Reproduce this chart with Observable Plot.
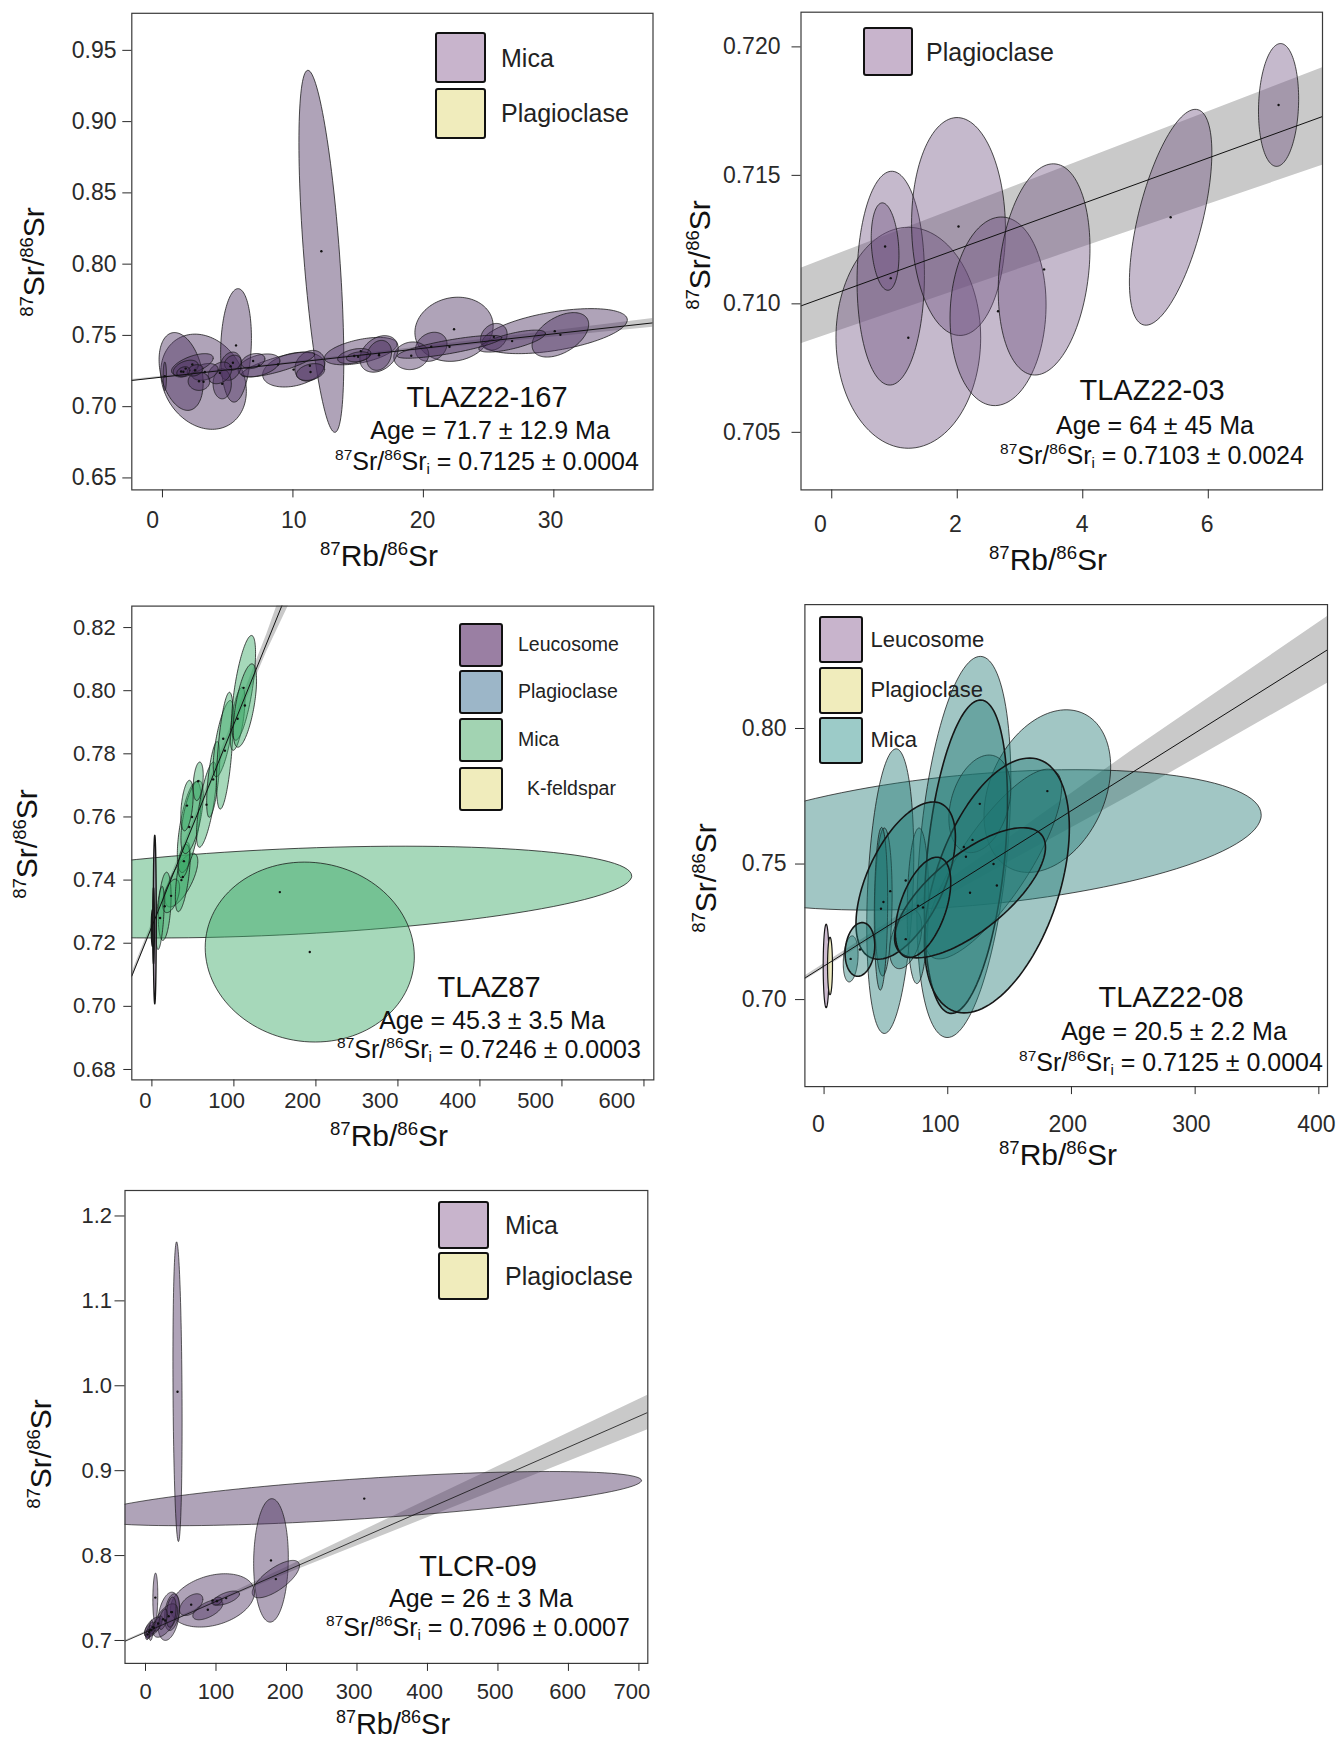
<!DOCTYPE html>
<html><head><meta charset="utf-8">
<script src="https://cdn.jsdelivr.net/npm/d3@7"></script>
<script src="https://cdn.jsdelivr.net/npm/@observablehq/plot@0.6"></script>
<style>
body{margin:0;background:#fff;}
#fig{position:relative;width:1339px;height:1739px;overflow:hidden;font-family:'Liberation Sans',Arial,Helvetica,sans-serif;color:#111;background:#fff;}
.t{position:absolute;white-space:nowrap;line-height:1;transform:translate(-50%,-50%);}
.yt{transform:translate(-50%,-50%) rotate(-90deg);}
.t sup,.lab sup{font-size:0.62em;vertical-align:0.6em;line-height:0;}
.t sub{font-size:0.6em;vertical-align:-0.3em;line-height:0;}
.box{position:absolute;border:2px solid #111;border-radius:3px;box-sizing:border-box;}
.lab{position:absolute;white-space:nowrap;line-height:1;transform:translateY(-50%);color:#222;}
</style></head><body><div id="fig"></div>
<script>
// ===== DATA (ellipses: [centre x, centre y, half-width x, half-height y, correlation]) =====
// Panel 1: TLAZ22-167
const p1Mica = [
 [3.15,0.7175,3.28,0.0334,-0.2],[1.43,0.7247,1.69,0.0273,-0.3],[5.64,0.743,1.18,0.0398,0.13],
 [12.18,0.809,1.72,0.127,-0.6],[22.35,0.7543,3.0,0.0225,0.1],[30.07,0.753,5.56,0.0158,0.5],
 [30.5,0.7504,2.17,0.0156,0.47],[25.4,0.749,1.02,0.0094,0.2],[26.8,0.746,2.55,0.0077,0.7],
 [20.6,0.742,1.21,0.0102,0.2],[19.07,0.7357,1.34,0.0097,0.1],[22.0,0.742,4.0,0.008,0.8],
 [15.2,0.739,2.78,0.0096,0.5],[16.6,0.737,1.47,0.0128,0.3],[16.6,0.736,0.96,0.0105,0.2],
 [14.7,0.7355,1.27,0.0053,0.4],[15.0,0.735,0.9,0.0035,0.3],[10.05,0.726,2.37,0.0122,0.3],
 [11.3,0.7287,1.15,0.0108,0.2],[11.35,0.7243,1.08,0.0059,0.3],[8.86,0.7296,2.8,0.0088,0.8],
 [7.4,0.729,1.6,0.008,0.4],[6.95,0.732,0.9,0.0053,0.3],[5.22,0.7284,0.83,0.0099,0.2],
 [5.4,0.7308,0.64,0.0053,0.2],[4.58,0.716,0.7,0.0105,0.0],[4.4,0.7237,0.9,0.0076,0.3],
 [3.25,0.7244,1.02,0.0059,0.3],[2.8,0.7178,0.83,0.0064,0.0],[2.29,0.7296,1.6,0.0076,0.6],
 [1.78,0.7267,0.96,0.0059,0.4],[2.5,0.7255,0.6,0.004,0.3],[1.6,0.7245,0.5,0.0035,0.3],
 [0.18,0.7213,0.13,0.01,0.0]
];
const p1LineX = [-2.35, 37.6], p1LineY = [0.7184, 0.7588];
const p1BandX = [-2.35, 10, 20, 30, 37.6], p1BandHalf = [0.0006, 0.0007, 0.0012, 0.0022, 0.003];
const p1XTicks = [0, 10, 20, 30], p1XLabelAt = [-0.75, 10.07, 19.94, 29.74];
const p1YTicks = [0.65, 0.70, 0.75, 0.80, 0.85, 0.90, 0.95];
const p1Legend = ["Mica", "Plagioclase"];
const p1Text = ["TLAZ22-167", "71.7 ± 12.9", "0.7125 ± 0.0004"];

// Panel 2: TLAZ22-03
const p2Plag = [
 [1.22,0.70868,1.153,0.0043,0.0],[0.94,0.711,0.537,0.00416,0.03],[0.85,0.71223,0.221,0.0017,-0.2],
 [2.02,0.71301,0.748,0.00424,-0.03],[2.65,0.70971,0.765,0.00367,0.07],[3.384,0.71134,0.731,0.00411,0.2],
 [5.40,0.71337,0.657,0.0042,0.6],[7.12,0.71774,0.32,0.00239,0.1]
];
const p2LineX = [-0.49, 7.82], p2LineY = [0.70992, 0.71729];
const p2BandX = [-0.49, 3.5, 7.82], p2BandHalf = [0.00147, 0.00167, 0.0019];
const p2XTicks = [0, 2, 4, 6], p2XLabelAt = [-0.18, 1.97, 3.99, 5.98];
const p2YTicks = [0.705, 0.710, 0.715, 0.720];
const p2Legend = ["Plagioclase"];
const p2Text = ["TLAZ22-03", "64 ± 45", "0.7103 ± 0.0024"];

// Panel 3: TLAZ87
const p3Mica = [
 [156,0.7362,429,0.01454,0.353],[192.5,0.7172,127.5,0.0285,-0.05],
 [36,0.74,20,0.0085,0.7],[15.6,0.7317,7.8,0.0108,0.3],[23.4,0.735,10.4,0.0053,0.5],
 [10,0.728,5,0.01,0.5],[37.7,0.741,9.1,0.011,0.6],[45.5,0.7568,14.5,0.0144,0.6],
 [39,0.746,7,0.0053,0.4],[49,0.76,13.6,0.0116,0.6],[42.8,0.7636,7.5,0.008,0.4],
 [56.5,0.7713,6.1,0.0061,0.3],[66.6,0.7639,12.2,0.0135,0.7],[74.8,0.7719,8,0.012,0.6],
 [87,0.7848,12.2,0.0121,0.7],[89,0.781,10.2,0.0185,0.55],[104.5,0.7911,9,0.01,0.6],
 [111.8,0.8009,14.6,0.0166,0.66],[113.4,0.7953,14.2,0.0132,0.6]
];
const p3Leuco = [[3.5,0.7275,1.8,0.0267,0.0],[0.8,0.7248,1.5,0.0058,0.0],[2,0.7255,1.0,0.012,0.0]];
const p3LineX = [-24.5, 170], p3LineY = [0.7096, 0.8343];
const p3BandX = [-24.5, 50, 100, 140, 170], p3BandHalf = [0.001, 0.0012, 0.0018, 0.0027, 0.0055];
const p3XTicks = [0, 100, 200, 300, 400, 500, 600], p3XLabelAt = [-7.8, 91, 183.7, 278.4, 373, 468, 567];
const p3YTicks = [0.68, 0.70, 0.72, 0.74, 0.76, 0.78, 0.80, 0.82];
const p3Legend = ["Leucosome", "Plagioclase", "Mica", "K-feldspar"];
const p3Text = ["TLAZ87", "45.3 ± 3.5", "0.7246 ± 0.0003"];

// Panel 4: TLAZ22-08
const p4Mica = [
 [120,0.7589,233.4,0.0259,0.355],[53.5,0.740,19,0.0525,0.25],[113,0.7563,38,0.0703,0.35],
 [180.5,0.7769,51.2,0.030,0.3],[48,0.736,7,0.0273,0.1],[75.9,0.7346,8.7,0.0287,0.1],
 [66,0.7223,13,0.0109,0.4],[137,0.75,55,0.035,0.8],[125.9,0.7722,25,0.018,0.3],
 [21.5,0.715,6,0.0085,0.2],[46,0.7335,5.4,0.03,0.1]
];
const p4MicaOutlined = [
 [114.7,0.7527,33.6,0.0578,0.35],[139.7,0.7421,58.6,0.047,0.45],[66,0.7439,40.2,0.029,0.55],
 [118,0.7394,61,0.024,0.7],[80,0.734,22.4,0.0185,0.5],[29,0.7185,12,0.0099,0.15]
];
const p4Leuco = [[1.7,0.7124,2.4,0.0154,0.0]];
const p4Plag = [[4.8,0.7124,2,0.0106,0.0]];
const p4LineX = [-15.5, 406.9], p4LineY = [0.70794, 0.829];
const p4BandX = [-15.5, 50, 150, 250, 407], p4BandHalf = [0.0008, 0.0012, 0.0045, 0.0082, 0.0123];
const p4XTicks = [0, 100, 200, 300, 400], p4XLabelAt = [-4.5, 94, 197, 297, 398];
const p4YTicks = [0.70, 0.75, 0.80];
const p4Legend = ["Leucosome", "Plagioclase", "Mica"];
const p4Text = ["TLAZ22-08", "20.5 ± 2.2", "0.7125 ± 0.0004"];

// Panel 5: TLCR-09
const p5Mica = [
 [310.3,0.8671,393.3,0.0319,0.67],[45.4,0.993,6.5,0.1765,-0.2],[178,0.7943,24.6,0.0727,0.05],
 [184.9,0.7723,33.5,0.022,0.72],[95,0.7472,59.6,0.0314,0.3],[64.8,0.7422,16.5,0.0128,0.5],
 [88.4,0.7362,21.3,0.0118,0.6],[114.4,0.7499,18.9,0.0083,0.6],[101.3,0.7463,7.1,0.0047,0.3],
 [13.9,0.7505,3.5,0.0289,0.1],[32.8,0.7285,15.4,0.0284,0.3],[37.6,0.7334,10.6,0.0216,0.3],
 [28,0.7235,17.7,0.0197,0.6],[36.4,0.7334,7,0.0177,0.3],[10.4,0.7157,11.8,0.0118,0.6],
 [6.8,0.7127,8.2,0.0088,0.5],[5,0.71,4,0.008,0.5],[12,0.715,5,0.007,0.6],[8,0.712,3,0.012,0.3],
 [18,0.72,6,0.009,0.6],[25,0.725,6,0.012,0.5],[3,0.707,3,0.006,0.3]
];
const p5LineX = [-29, 712.6], p5LineY = [0.6991, 0.9686];
const p5BandX = [-29, 100, 200, 400, 712.6], p5BandHalf = [0.001, 0.0015, 0.004, 0.0105, 0.0203];
const p5XTicks = [0, 100, 200, 300, 400, 500, 600, 700], p5XLabelAt = [0, 100, 198, 296, 396, 496, 599, 690];
const p5YTicks = [0.7, 0.8, 0.9, 1.0, 1.1, 1.2];
const p5Legend = ["Mica", "Plagioclase"];
const p5Text = ["TLCR-09", "26 ± 3", "0.7096 ± 0.0007"];

// ===== DRAWING =====
const FONT = "'Liberation Sans', Arial, Helvetica, sans-serif";
const fig = document.getElementById("fig");
const LAV = "#c8b4cc", YEL = "#f0ecbc";

function ellipsePts(list, tag) {
  const out = [];
  list.forEach((e, i) => {
    const [cx, cy, hx, hy, r] = e, s = Math.sqrt(1 - r * r);
    for (let k = 0; k < 120; k++) {
      const t = 2 * Math.PI * k / 120;
      out.push({id: tag + i, x: cx + hx * Math.cos(t), y: cy + hy * (r * Math.cos(t) + s * Math.sin(t))});
    }
  });
  return out;
}
function ellMark(list, tag, o) {
  return Plot.line(ellipsePts(list, tag), {x: "x", y: "y", z: "id", curve: "linear-closed",
    fill: o.fill, fillOpacity: o.fo, stroke: o.stroke || "#161616", strokeWidth: o.sw || 0.9,
    strokeOpacity: o.so || 0.85, clip: true});
}
function dotMark(lists) {
  return Plot.dot(lists.flat().map(e => ({x: e[0], y: e[1]})), {x: "x", y: "y", r: 1.2, fill: "#111", stroke: null, clip: true});
}
function bandMark(lx, ly, bx, bh) {
  const d = bx.map((x, i) => {
    const y = ly[0] + (ly[1] - ly[0]) * (x - lx[0]) / (lx[1] - lx[0]);
    return {x, lo: y - bh[i], hi: y + bh[i]};
  });
  return Plot.areaY(d, {x: "x", y1: "lo", y2: "hi", fill: "#c9c9c9", clip: true});
}
function lineMark(lx, ly, sw) {
  return Plot.line(lx.map((x, i) => ({x, y: ly[i]})), {x: "x", y: "y", stroke: "#111", strokeWidth: sw || 1, clip: true});
}

function panel(c) {
  const labels = c.xt.map((v, i) => ({x: c.xl[i], t: String(v)}));
  const svg = Plot.plot({
    width: c.w, height: c.h,
    marginLeft: c.ml, marginRight: c.mr, marginTop: c.mt, marginBottom: c.mb,
    x: {domain: c.xd}, y: {domain: c.yd},
    style: {fontFamily: FONT, fontSize: c.fs + "px", color: "#2a2a2a", background: "transparent", overflow: "visible"},
    marks: [
      ...c.marks,
      Plot.frame({stroke: "#3a3a3a", strokeWidth: 1.2}),
      Plot.axisX({ticks: c.xt, tickSize: c.xts, tickPadding: c.xtp, label: null, tickFormat: () => "", strokeWidth: 1}),
      Plot.text(labels, {x: "x", text: "t", frameAnchor: "bottom", lineAnchor: "top", dy: c.xts + c.xtp, fill: "#2a2a2a"}),
      Plot.axisY({ticks: c.yt, tickSize: c.yts, tickPadding: c.ytp, label: null, tickFormat: d3.format(c.yf), strokeWidth: 1})
    ]
  });
  svg.style.position = "absolute";
  svg.style.left = c.left + "px";
  svg.style.top = c.top + "px";
  fig.appendChild(svg);
}

function text(html, x, y, size, cls) {
  const d = document.createElement("div");
  d.className = "t" + (cls ? " " + cls : "");
  d.style.left = x + "px"; d.style.top = y + "px"; d.style.fontSize = size + "px";
  d.innerHTML = html;
  fig.appendChild(d);
}
function legend(labels, colors, bx, bw, tops, bh, lx, size, indents) {
  labels.forEach((l, i) => {
    const b = document.createElement("div");
    b.className = "box";
    Object.assign(b.style, {left: bx + "px", top: tops[i] + "px", width: bw + "px", height: bh + "px", background: colors[i]});
    fig.appendChild(b);
    const t = document.createElement("div");
    t.className = "lab";
    Object.assign(t.style, {left: (lx + (indents ? indents[i] : 0)) + "px", top: (tops[i] + bh / 2) + "px", fontSize: size + "px"});
    t.textContent = l;
    fig.appendChild(t);
  });
}
const SRY = "<sup>87</sup>Sr/<sup>86</sup>Sr";
const RBX = "<sup>87</sup>Rb/<sup>86</sup>Sr";
function annot(tx, cx, y0, y1, y2) {
  text(tx[0], cx, y0, 29);
  text("Age = " + tx[1] + " Ma", cx + 3, y1, 25);
  text("<sup>87</sup>Sr/<sup>86</sup>Sr<sub>i</sub> = " + tx[2], cx, y2, 25);
}

// Panel 1
panel({left: 0, top: 0, w: 670, h: 580, ml: 131.3, mr: 17.5, mt: 12.8, mb: 90.6,
  xd: [-2.35, 37.6], yd: [0.6416, 0.976], xt: p1XTicks, xl: p1XLabelAt, yt: p1YTicks, yf: ".2f",
  xts: 8, xtp: 13.6, yts: 9, ytp: 6.3, fs: 23,
  marks: [bandMark(p1LineX, p1LineY, p1BandX, p1BandHalf), ellMark(p1Mica, "a", {fill: "#4e3462", fo: 0.45}),
          lineMark(p1LineX, p1LineY), dotMark([p1Mica])]});
text(SRY, 34, 262, 30, "yt");
text(RBX, 379, 556, 30);
annot(p1Text, 487, 397, 430, 461);
legend(p1Legend, [LAV, YEL], 435, 51, [32, 87.5], 51, 501, 25);

// Panel 2
panel({left: 670, top: 0, w: 669, h: 580, ml: 130.5, mr: 17, mt: 11.7, mb: 90.6,
  xd: [-0.49, 7.82], yd: [0.70276, 0.72135], xt: p2XTicks, xl: p2XLabelAt, yt: p2YTicks, yf: ".3f",
  xts: 9, xtp: 16.6, yts: 9, ytp: 11.5, fs: 23,
  marks: [bandMark(p2LineX, p2LineY, p2BandX, p2BandHalf), ellMark(p2Plag, "b", {fill: "#6e5080", fo: 0.4}),
          lineMark(p2LineX, p2LineY), dotMark([p2Plag])]});
text(SRY, 700, 255, 30, "yt");
text(RBX, 1048, 560, 30);
annot(p2Text, 1152, 390, 425, 455);
legend(p2Legend, [LAV], 863, 50, [27], 49, 926, 25);

// Panel 3
panel({left: 0, top: 590, w: 670, h: 580, ml: 131.3, mr: 16.7, mt: 15.6, mb: 90.6,
  xd: [-24.5, 612], yd: [0.6767, 0.8268], xt: p3XTicks, xl: p3XLabelAt, yt: p3YTicks, yf: ".2f",
  xts: 7, xtp: 5, yts: 8, ytp: 8, fs: 22,
  marks: [bandMark(p3LineX, p3LineY, p3BandX, p3BandHalf), ellMark(p3Mica, "c", {fill: "#3aa866", fo: 0.45}),
          ellMark(p3Leuco, "d", {fill: "#9a7fa3", fo: 0.6, sw: 1.4, so: 1}),
          lineMark(p3LineX, p3LineY), dotMark([p3Mica])]});
text(SRY, 27, 844, 30, "yt");
text(RBX, 389, 1136, 30);
annot(p3Text, 489, 987, 1020, 1049);
legend(p3Legend, ["#9a7fa3", "#9cb6c8", "#a2d3b2", YEL], 459, 44, [622.6, 669.7, 717.9, 766.9], 44.5, 518, 19.5, [0, 0, 0, 9]);

// Panel 4
panel({left: 670, top: 590, w: 669, h: 580, ml: 134.4, mr: 12, mt: 14.1, mb: 83.9,
  xd: [-15.5, 407], yd: [0.6679, 0.8457], xt: p4XTicks, xl: p4XLabelAt, yt: p4YTicks, yf: ".2f",
  xts: 8, xtp: 20.6, yts: 9.4, ytp: 9, fs: 23,
  marks: [bandMark(p4LineX, p4LineY, p4BandX, p4BandHalf),
          ellMark(p4Mica, "e", {fill: "#1e7873", fo: 0.42, sw: 1, so: 0.75}),
          ellMark(p4MicaOutlined, "f", {fill: "#1e7873", fo: 0.42, sw: 1.6, so: 1}),
          ellMark(p4Leuco, "g", {fill: LAV, fo: 0.9, sw: 1.2, so: 1}),
          ellMark(p4Plag, "h", {fill: YEL, fo: 0.9, sw: 1.2, so: 1}),
          lineMark(p4LineX, p4LineY), dotMark([p4Mica, p4MicaOutlined])]});
text(SRY, 706, 878, 30, "yt");
text(RBX, 1058, 1155, 30);
annot(p4Text, 1171, 997, 1031, 1062);
legend(p4Legend, [LAV, YEL, "#9ccbc8"], 818.5, 44.5, [616, 666.8, 716.8], 47, 870.5, 22);

// Panel 5
panel({left: 0, top: 1170, w: 670, h: 569, ml: 124.5, mr: 22.7, mt: 20, mb: 76.1,
  xd: [-29.1, 712.6], yd: [0.673, 1.230], xt: p5XTicks, xl: p5XLabelAt, yt: p5YTicks, yf: ".1f",
  xts: 8, xtp: 11.5, yts: 10, ytp: 3, fs: 22,
  marks: [bandMark(p5LineX, p5LineY, p5BandX, p5BandHalf), ellMark(p5Mica, "i", {fill: "#4e3462", fo: 0.45, sw: 0.8}),
          lineMark(p5LineX, p5LineY, 0.8), dotMark([p5Mica])]});
text(SRY, 41, 1454, 30, "yt");
text(RBX, 393, 1724, 29);
annot(p5Text, 478, 1566, 1598, 1627);
legend(p5Legend, [LAV, YEL], 438, 51, [1201, 1252], 48, 505, 25);
</script></body></html>
